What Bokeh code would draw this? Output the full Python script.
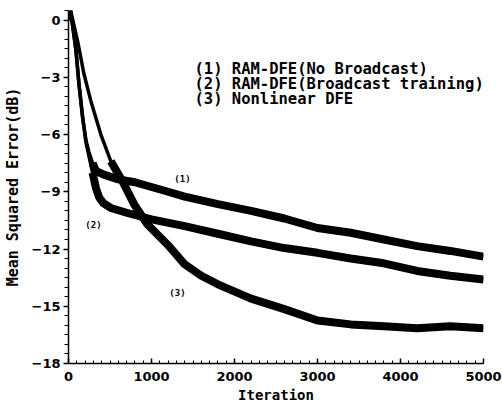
from bokeh.plotting import figure
from bokeh.models import Range1d, SingleIntervalTicker, Label
from bokeh.embed import file_html
from bokeh.resources import INLINE

# ---- data ----
iters_1 = [0, 25, 90, 125, 170, 210, 245, 290, 330, 425, 600, 800, 1000, 1200, 1400,
           1800, 2200, 2600, 3000, 3400, 3800, 4200, 4600, 5000]
mse_1 = [0.0, 0.5, -1.6, -3.3, -5.1, -6.3, -6.9, -7.5, -7.9, -8.1, -8.35, -8.5, -8.75,
         -9.0, -9.25, -9.65, -10.0, -10.4, -10.9, -11.15, -11.5, -11.85, -12.1, -12.4]

iters_2 = [0, 25, 90, 125, 170, 210, 245, 290, 330, 370, 420, 510, 700, 1000, 1400,
           1800, 2200, 2600, 3000, 3400, 3800, 4200, 4600, 5000]
mse_2 = [0.0, 0.5, -1.6, -3.3, -5.1, -6.4, -7.1, -8.0, -8.8, -9.3, -9.6, -9.85, -10.1,
         -10.45, -10.8, -11.2, -11.6, -11.95, -12.2, -12.5, -12.75, -13.15, -13.4, -13.6]

iters_3 = [0, 25, 110, 185, 270, 390, 510, 650, 790, 950, 1200, 1400, 1600, 1800,
           2200, 2600, 3000, 3400, 3800, 4200, 4600, 5000]
mse_3 = [0.0, 0.5, -1.1, -2.8, -4.25, -6.0, -7.4, -8.45, -9.65, -10.7, -11.8, -12.8,
         -13.4, -13.85, -14.6, -15.15, -15.75, -15.95, -16.05, -16.15, -16.05, -16.15]

legend_texts = ["(1) RAM-DFE(No Broadcast)",
                "(2) RAM-DFE(Broadcast training)",
                "(3) Nonlinear DFE"]
curve_tags = ["(1)", "(2)", "(3)"]

x_ticks_interval = 1000
y_ticks_interval = 3

MONO = "DejaVu Sans Mono"

p = figure(width=502, height=407, output_backend="svg", toolbar_location=None,
           x_range=Range1d(0, 5000), y_range=Range1d(-18, 0.5),
           min_border_left=68, min_border_right=19, min_border_top=10,
           min_border_bottom=44, background_fill_color="white",
           border_fill_color="white")
p.outline_line_color = None
p.xgrid.visible = False
p.ygrid.visible = False

# curves: thinner steep start, thick noisy band afterwards
for xs, ys, k in [(iters_1, mse_1, 7), (iters_2, mse_2, 7), (iters_3, mse_3, 6)]:
    p.line(xs, ys, line_color="black", line_width=3.5)
    p.line(xs[k:], ys[k:], line_color="black", line_width=8)

# axes
p.xaxis.ticker = SingleIntervalTicker(interval=x_ticks_interval, num_minor_ticks=10)
p.yaxis.ticker = SingleIntervalTicker(interval=y_ticks_interval, num_minor_ticks=6)
for ax in (p.xaxis[0], p.yaxis[0]):
    ax.axis_line_color = "black"
    ax.axis_line_width = 1.5
    ax.major_tick_line_color = "black"
    ax.minor_tick_line_color = "black"
    ax.major_tick_line_width = 1.5
    ax.minor_tick_line_width = 1
    ax.major_label_text_font = "DejaVu Sans"
    ax.major_label_text_font_style = "bold"
    ax.major_label_text_font_size = "13px"
    ax.major_label_text_color = "black"
    ax.axis_label_text_font = MONO
    ax.axis_label_text_font_style = "bold"
    ax.axis_label_text_font_size = "15px"
    ax.axis_label_text_color = "black"

p.xaxis.axis_label = "Iteration"
p.xaxis.axis_label_text_font_size = "14px"
p.xaxis.major_tick_in = 5
p.xaxis.major_tick_out = 0
p.xaxis.minor_tick_in = 3
p.xaxis.minor_tick_out = 0
p.xaxis.major_label_standoff = 8
p.xaxis.axis_label_standoff = 3

p.yaxis.axis_label = "Mean Squared Error(dB)"
p.yaxis.major_tick_in = 0
p.yaxis.major_tick_out = 5
p.yaxis.minor_tick_in = 0
p.yaxis.minor_tick_out = 4
p.yaxis.major_label_standoff = 3
p.yaxis.axis_label_standoff = 7

# legend text block
for i, t in enumerate(legend_texts):
    p.add_layout(Label(x=1518, y=-2.54 - 0.79 * i, text=t, text_font=MONO,
                       text_font_style="bold", text_font_size="15.5px",
                       text_color="black", text_baseline="middle"))

# curve tags
tag_pos = [(1373, -8.31), (301, -10.72), (1313, -14.33)]
for (tx, ty), t in zip(tag_pos, curve_tags):
    p.add_layout(Label(x=tx, y=ty, text=t, text_font=MONO,
                       text_font_style="bold", text_font_size="9px",
                       text_color="black", text_baseline="middle", text_align="center"))

open("out.html", "w").write(file_html(p, INLINE))
